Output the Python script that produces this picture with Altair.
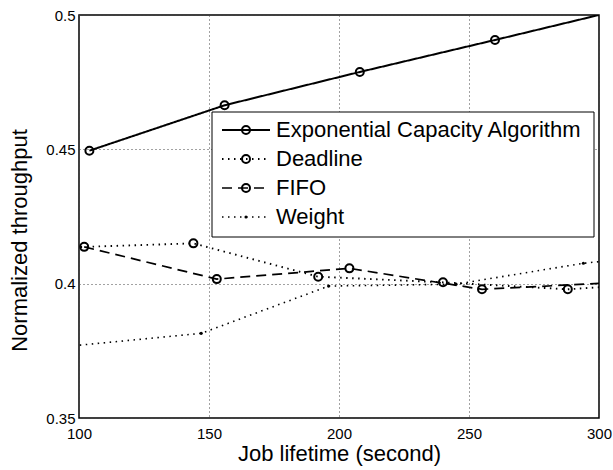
import altair as alt
import pandas as pd

# ---- data ----
series_names = ["Exponential Capacity Algorithm", "Deadline", "FIFO", "Weight"]

exp_x = [104, 156, 208, 260, 312]
exp_y = [0.4495, 0.4664, 0.4788, 0.4907, 0.5028]

dead_x = [96, 144, 192, 240, 288, 336]
dead_y = [0.4135, 0.4150, 0.4026, 0.4005, 0.3979, 0.4010]

fifo_x = [102, 153, 204, 255, 306]
fifo_y = [0.4137, 0.4017, 0.4057, 0.3979, 0.4004]

weight_x = [98, 147, 196, 245, 294, 343]
weight_y = [0.3769, 0.3815, 0.3991, 0.3998, 0.4076, 0.4125]

x_ticks = [100, 150, 200, 250, 300]
y_ticks = [0.35, 0.4, 0.45, 0.5]

rows = []
for name, xs, ys in zip(series_names,
                        [exp_x, dead_x, fifo_x, weight_x],
                        [exp_y, dead_y, fifo_y, weight_y]):
    for i, (a, b) in enumerate(zip(xs, ys)):
        rows.append({"series": name, "x": a, "y": b, "order": i})
df = pd.DataFrame(rows)
legend_df = pd.DataFrame({"series": series_names})

FONT = "Liberation Sans"

dash_scale = alt.Scale(domain=series_names,
                       range=[[1, 0], [1.5, 4.5], [10, 6], [1.5, 4.5]])
width_scale = alt.Scale(domain=series_names, range=[2, 1.6, 2, 1.6])

x_scale = alt.Scale(domain=[100, 300], nice=False, zero=False)
y_scale = alt.Scale(domain=[0.35, 0.5], nice=False, zero=False)

x_axis = alt.Axis(values=x_ticks, format="d", title="Job lifetime (second)",
                  labelFontSize=15, titleFontSize=22, labelPadding=8,
                  titlePadding=2, grid=True, gridDash=[1, 3],
                  gridColor="#444", gridOpacity=1, ticks=False,
                  domain=False, labelFlush=False, labelFont=FONT,
                  titleFont=FONT, titleFontWeight="normal",
                  labelColor="black", titleColor="black")
y_axis = alt.Axis(values=y_ticks, format="~g", title="Normalized throughput",
                  labelFontSize=15, titleFontSize=22, labelPadding=4,
                  titlePadding=14, titleY=225, grid=True, gridDash=[1, 3],
                  gridColor="#444", gridOpacity=1, ticks=False,
                  domain=False, labelFlush=False, labelFont=FONT,
                  titleFont=FONT, titleFontWeight="normal",
                  labelColor="black", titleColor="black")


def xe():
    return alt.X("x:Q", scale=x_scale, axis=x_axis)


def ye():
    return alt.Y("y:Q", scale=y_scale, axis=y_axis)


lines = alt.Chart(df).mark_line(color="black", clip=True).encode(
    x=xe(), y=ye(),
    detail="series:N",
    order="order:Q",
    strokeDash=alt.StrokeDash("series:N", scale=dash_scale, legend=None),
    strokeWidth=alt.StrokeWidth("series:N", scale=width_scale, legend=None),
)

circles = alt.Chart(df).transform_filter(
    alt.datum.series != "Weight"
).mark_point(shape="circle", filled=False, color="black", size=64,
             strokeWidth=2, opacity=1, clip=True).encode(x=xe(), y=ye())

dots = alt.Chart(df).transform_filter(
    alt.datum.series == "Weight"
).mark_point(shape="circle", filled=True, color="black", size=10,
             opacity=1, clip=True).encode(x=xe(), y=ye())

main = alt.layer(lines, circles, dots)

# ---- manual legend (MATLAB style box) ----
leg_y = alt.Y("series:N", scale=alt.Scale(type="point", domain=series_names,
                                           range=[115, 202], padding=0), axis=None)

box = alt.Chart(pd.DataFrame({"k": [0]})).mark_rect(
    fill="white", stroke="black", strokeWidth=1
).encode(x=alt.value(133), x2=alt.value(515), y=alt.value(97), y2=alt.value(222))

leg_lines = alt.Chart(legend_df).mark_rule(color="black").encode(
    x=alt.value(143), x2=alt.value(191), y=leg_y,
    strokeDash=alt.StrokeDash("series:N", scale=dash_scale, legend=None),
    strokeWidth=alt.StrokeWidth("series:N", scale=width_scale, legend=None),
)
leg_circles = alt.Chart(legend_df).transform_filter(
    alt.datum.series != "Weight"
).mark_point(shape="circle", filled=False, color="black", size=64,
             strokeWidth=2, opacity=1).encode(x=alt.value(167), y=leg_y)
leg_dots = alt.Chart(legend_df).transform_filter(
    alt.datum.series == "Weight"
).mark_point(shape="circle", filled=True, color="black", size=10,
             opacity=1).encode(x=alt.value(167), y=leg_y)
leg_text = alt.Chart(legend_df).mark_text(
    align="left", baseline="middle", fontSize=22, font=FONT, color="black"
).encode(x=alt.value(197), y=leg_y, text="series:N")

legend = alt.layer(box, leg_lines, leg_circles, leg_dots, leg_text)

chart = alt.layer(main, legend).resolve_scale(
    y="independent"
).properties(
    width=520, height=403,
    autosize=alt.AutoSizeParams(type="none"),
    padding={"left": 79, "top": 15, "right": 14, "bottom": 52},
    background="white",
).configure_view(stroke="black", strokeWidth=1.5)

chart.save("out.html", embed_options={"renderer": "svg", "actions": False})
